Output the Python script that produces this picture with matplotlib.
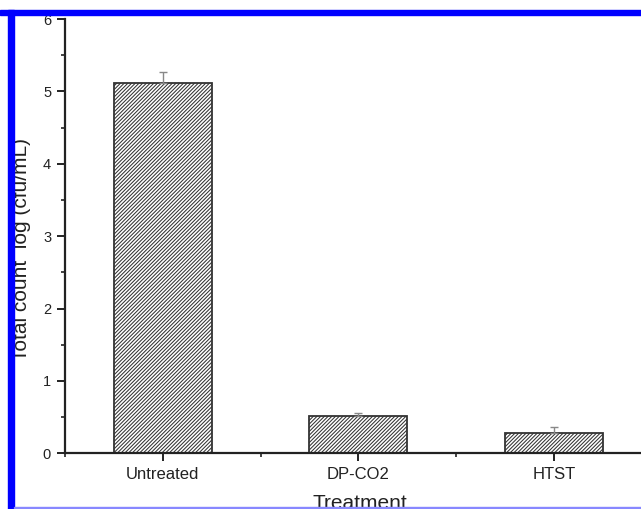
import matplotlib
matplotlib.use('Agg')
import matplotlib.pyplot as plt
from matplotlib.patches import Rectangle
from matplotlib.ticker import MultipleLocator

plt.rcParams['font.family'] = ['Liberation Sans', 'DejaVu Sans']
plt.rcParams['hatch.linewidth'] = 0.75

treatments = ['Untreated', 'DP-CO2', 'HTST']
counts = [5.11, 0.52, 0.285]
errors = [0.16, 0.03, 0.075]

W, H = 641, 509
fig = plt.figure(figsize=(W / 100, H / 100), dpi=100)
ax = fig.add_axes([65 / W, 1 - 453.3 / H, 1 - 65 / W, (453.3 - 19) / H])

pos = list(range(1, len(treatments) + 1))
ax.bar(pos, counts, width=0.5, color='white', edgecolor='#333333',
       linewidth=1.3, hatch='/////////', zorder=2)
ax.errorbar(pos, counts, yerr=[[0] * len(errors), errors], fmt='none',
            ecolor='#888888', elinewidth=1.0, capsize=3, capthick=1.0, zorder=3)

ax.set_xlim(0.5, 0.5 + (W - 65) / 195.5)
ax.set_ylim(0, 6)
ax.set_xticks(pos)
ax.set_xticklabels(treatments)
ax.xaxis.set_minor_locator(MultipleLocator(1, offset=0.5))
ax.yaxis.set_major_locator(MultipleLocator(1))
ax.yaxis.set_minor_locator(MultipleLocator(0.5))

for side in ['top', 'right']:
    ax.spines[side].set_visible(False)
for side in ['left', 'bottom']:
    ax.spines[side].set_linewidth(1.6)
    ax.spines[side].set_color('#222222')

ax.tick_params(axis='both', which='major', direction='out', length=6, width=1.4,
               color='#222222', labelcolor='#222222', pad=4)
ax.tick_params(axis='both', which='minor', direction='out', length=3, width=1.2,
               color='#222222')
ax.tick_params(axis='x', which='major', labelsize=12)
ax.tick_params(axis='y', which='major', labelsize=10.5)

ax.set_ylabel('Total count  log (cfu/mL)', fontsize=15, color='#222222')
ax.yaxis.label.set_va('center')
ax.yaxis.set_label_coords((21.5 - 65) / 576, (453.3 - 249) / 434.3)
ax.set_xlabel('Treatment', fontsize=15, color='#222222')
ax.xaxis.set_label_coords((360 - 65) / 576, (453.3 - 494) / 434.3)

# blue frame of the screenshot
fig.add_artist(Rectangle((0, 1 - 15 / H), 1, 5.5 / H, transform=fig.transFigure,
                         color='#0000ff', zorder=10))
fig.add_artist(Rectangle((8.3 / W, 0), 5.7 / W, 1 - 10 / H, transform=fig.transFigure,
                         color='#0000ff', zorder=10))
fig.add_artist(Rectangle((14 / W, 1 / H), 1, 1.2 / H, transform=fig.transFigure,
                         color='#8888ff', zorder=10))

fig.savefig('out.png', dpi=100)
